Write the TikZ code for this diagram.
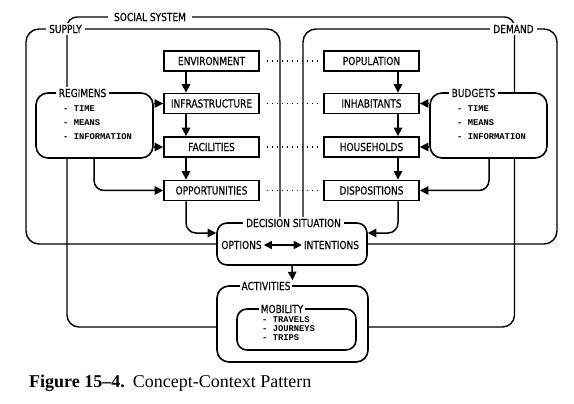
\documentclass[tikz,border=0pt]{standalone}
\usepackage{fontspec}
\setmainfont{Liberation Serif}
\newfontfamily\labfont[FakeStretch=0.82,FakeBold=0.4]{DejaVu Sans}
\newfontfamily\listfont{Liberation Mono}
\usetikzlibrary{arrows.meta}
\begin{document}
\begin{tikzpicture}[x=1pt,y=-1pt,
  lab/.style={font=\labfont\fontsize{11}{13}\selectfont, inner sep=0pt},
  box/.style={draw, line width=1.8pt, minimum width=95pt, minimum height=20pt, inner sep=0pt, lab},
  rbox/.style={draw, line width=1.6pt, rounded corners=12pt, inner sep=0pt},
  frame/.style={line width=1.4pt},
  arr/.style={line width=1.5pt, -{Triangle[length=8.5pt,width=8.5pt]}},
  ttl/.style={lab, fill=white, inner xsep=3pt, inner ysep=2pt},
  lst/.style={font=\listfont\bfseries\fontsize{8.8}{10}\selectfont, inner sep=0pt, anchor=base west},
  dots/.style={line width=1.3pt, dash pattern=on 1.3pt off 3.7pt}]
\useasboundingbox (0,0) rectangle (574,404);
\fill[white] (0,0) rectangle (574,404);

% boxes
\node[box] (env) at (211.5,61) {ENVIRONMENT};
\node[box] (inf) at (211.5,103.5) {INFRASTRUCTURE};
\node[box] (fac) at (211.5,147) {FACILITIES};
\node[box] (opp) at (211.5,190.5) {OPPORTUNITIES};
\node[box] (pop) at (371.5,61) {POPULATION};
\node[box] (inh) at (371.5,103.5) {INHABITANTS};
\node[box] (hou) at (371.5,147) {HOUSEHOLDS};
\node[box] (dis) at (371.5,190.5) {DISPOSITIONS};

\node[rbox, minimum width=117pt, minimum height=65pt] (reg) at (94.5,125.5) {};
\node[rbox, minimum width=117pt, minimum height=65pt] (bud) at (488.5,125.5) {};
\node[rbox, rounded corners=10pt, minimum width=150pt, minimum height=42pt] (dec) at (292,244) {};
\node[rbox, minimum width=151pt, minimum height=76pt] (act) at (292.5,324) {};
\node[rbox, rounded corners=10pt, minimum width=119pt, minimum height=41pt] (mob) at (296.5,329.5) {};

% helper coordinates
\coordinate (lc) at (186,0);
\coordinate (rc) at (398,0);
\coordinate (rx) at (94,0);
\coordinate (bx) at (489,0);
\coordinate (sx) at (67,0);
\coordinate (dx) at (514.5,0);
\coordinate (sr) at (280,0);
\coordinate (dl) at (303,0);
\coordinate (dy) at (0,233);
\coordinate (ly) at (0,244);
\coordinate (ay) at (0,327);

% frames
\draw[frame, rounded corners=10pt] (reg.north -| sx) -- (67,17) -- (514.5,17) -- (bud.north -| dx);
\draw[frame, rounded corners=13pt] (dec.north -| sr) -- (280,29) -- (26,29) -- (26,244) -- (dec.west |- ly);
\draw[frame, rounded corners=13pt] (dec.north -| dl) -- (303,29) -- (557,29) -- (557,244) -- (dec.east |- ly);
\draw[frame, rounded corners=12pt] (reg.south -| sx) -- (67,327) -- (act.west |- ay);
\draw[frame, rounded corners=12pt] (bud.south -| dx) -- (514.5,327) -- (act.east |- ay);

% vertical arrows
\draw[arr] (env.south -| lc) -- (inf.north -| lc);
\draw[arr] (inf.south -| lc) -- (fac.north -| lc);
\draw[arr] (fac.south -| lc) -- (opp.north -| lc);
\draw[arr] (pop.south -| rc) -- (inh.north -| rc);
\draw[arr] (inh.south -| rc) -- (hou.north -| rc);
\draw[arr] (hou.south -| rc) -- (dis.north -| rc);

% dotted links
\draw[dots] ([xshift=7pt]env.east) -- ([xshift=-5pt]pop.west);
\draw[dots] ([xshift=7pt]inf.east) -- ([xshift=-5pt]inh.west);
\draw[dots] ([xshift=7pt]fac.east) -- ([xshift=-5pt]hou.west);
\draw[dots] ([xshift=7pt]opp.east) -- ([xshift=-5pt]dis.west);

% regimens / budgets arrows
\draw[arr] (reg.east |- inf.west) -- (inf.west);
\draw[arr] (reg.east |- fac.west) -- (fac.west);
\draw[arr, rounded corners=10pt] (reg.south -| rx) |- (opp.west);
\draw[arr] (bud.west |- inh.east) -- (inh.east);
\draw[arr] (bud.west |- hou.east) -- (hou.east);
\draw[arr, rounded corners=10pt] (bud.south -| bx) |- (dis.east);

% to decision situation
\draw[arr, rounded corners=10pt] (opp.south -| lc) |- (dec.west |- dy);
\draw[arr, rounded corners=10pt] (dis.south -| rc) |- (dec.east |- dy);
\draw[arr] (dec.south) -- ([yshift=5pt]act.north);

% titles
\node[ttl, inner xsep=6pt] (sst) at (150,17) {SOCIAL SYSTEM};
\node[ttl] (sup) at (65.5,29) {SUPPLY};
\node[ttl] (dem) at (513.5,29) {DEMAND};
\node[ttl] (regt) at (82.5,93) {REGIMENS};
\node[ttl] (budt) at (473.5,93) {BUDGETS};
\node[ttl] (dect) at (293.5,223) {DECISION SITUATION};
\node[ttl, inner xsep=2pt] (actt) at (266,286) {ACTIVITIES};
\node[ttl, inner xsep=2pt] (mobt) at (282,309) {MOBILITY};

% lists
\node[lst] (r1) at (63,111.5) {- TIME};
\node[lst] (r2) at (63,125.5) {- MEANS};
\node[lst] (r3) at (63,139.5) {- INFORMATION};
\node[lst] (b1) at (457,111.5) {- TIME};
\node[lst] (b2) at (457,125.5) {- MEANS};
\node[lst] (b3) at (457,139.5) {- INFORMATION};
\node[lst] (m1) at (262,322.5) {- TRAVELS};
\node[lst] (m2) at (262,331.5) {- JOURNEYS};
\node[lst] (m3) at (262,340.5) {- TRIPS};

% decision contents
\node[lab] (opt) at (241.5,245) {OPTIONS};
\node[lab] (int) at (331.5,245) {INTENTIONS};
\draw[line width=1.5pt, {Triangle[length=8pt,width=8pt]}-{Triangle[length=8pt,width=8pt]}] ([xshift=2pt]opt.east) -- ([xshift=-2pt]int.west);

% caption
\node[anchor=base west, inner sep=0pt, font=\fontsize{18}{20}\selectfont] (cap) at (29,387) {\textbf{Figure 15–4.}\hspace{0.45em}Concept-Context Pattern};
\end{tikzpicture}
\end{document}
